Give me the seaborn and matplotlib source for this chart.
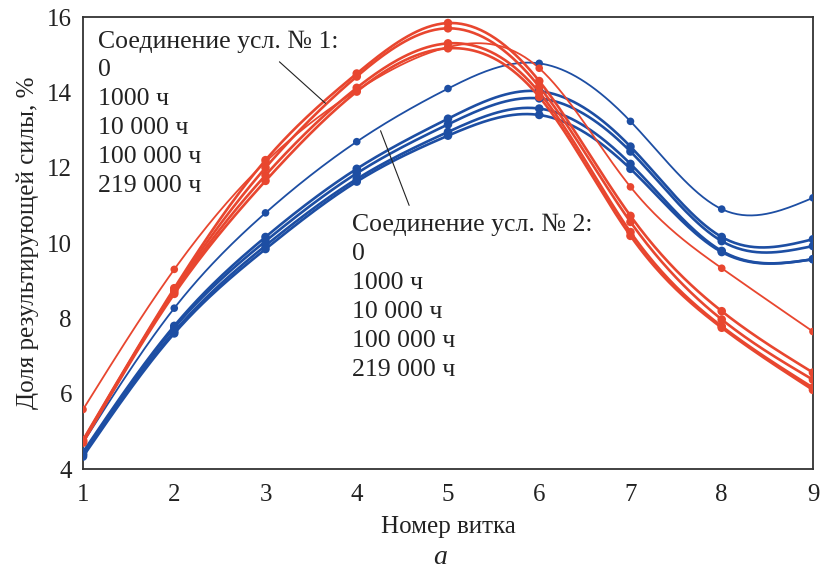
import numpy as np
import pandas as pd
import seaborn as sns
import matplotlib.pyplot as plt

sns.set_style('white')
plt.rcParams['font.family'] = ['Liberation Serif', 'DejaVu Serif']

# номер витка
turns = [1, 2, 3, 4, 5, 6, 7, 8, 9]

# соединение 1 (красные), первая кривая тонкая
red_0 = [5.58, 9.30, 12.15, 14.05, 15.20, 14.64, 11.49, 9.33, 7.65]
red_1 = [4.77, 8.80, 12.20, 14.50, 15.84, 14.30, 10.72, 8.19, 6.56]
red_2 = [4.72, 8.75, 12.00, 14.42, 15.70, 14.15, 10.56, 7.97, 6.37]
red_3 = [4.75, 8.70, 11.80, 14.12, 15.30, 14.00, 10.29, 7.79, 6.16]
red_4 = [4.70, 8.65, 11.65, 14.02, 15.17, 13.88, 10.19, 7.75, 6.10]

# соединение 2 (синие), первая кривая тонкая
blue_0 = [4.70, 8.27, 10.80, 12.69, 14.10, 14.77, 13.23, 10.90, 11.20]
blue_1 = [4.45, 7.80, 10.16, 11.97, 13.30, 14.03, 12.56, 10.16, 10.10]
blue_2 = [4.40, 7.75, 10.05, 11.85, 13.15, 13.84, 12.43, 10.05, 9.92]
blue_3 = [4.37, 7.65, 9.93, 11.70, 12.95, 13.57, 12.10, 9.79, 9.57]
blue_4 = [4.33, 7.60, 9.84, 11.63, 12.85, 13.40, 11.97, 9.76, 9.57]

labels = ['0', '1000 ч', '10 000 ч', '100 000 ч', '219 000 ч']

RED = '#e8462f'
BLUE = '#1d4ea3'
INK = '#222222'


def smooth(x, y, n=300):
    # natural cubic spline, only for drawing the line between the points
    x = np.asarray(x, float)
    y = np.asarray(y, float)
    k = len(x)
    h = np.diff(x)
    A = np.zeros((k, k))
    b = np.zeros(k)
    A[0, 0] = A[-1, -1] = 1
    for i in range(1, k - 1):
        A[i, i - 1] = h[i - 1]
        A[i, i] = 2 * (h[i - 1] + h[i])
        A[i, i + 1] = h[i]
        b[i] = 6 * ((y[i + 1] - y[i]) / h[i] - (y[i] - y[i - 1]) / h[i - 1])
    M = np.linalg.solve(A, b)
    xs = np.linspace(x[0], x[-1], n)
    idx = np.clip(np.searchsorted(x, xs) - 1, 0, k - 2)
    x0, x1 = x[idx], x[idx + 1]
    hh = x1 - x0
    t0, t1 = x1 - xs, xs - x0
    ys = (M[idx] * t0**3 + M[idx + 1] * t1**3) / (6 * hh) \
        + (y[idx] / hh - M[idx] * hh / 6) * t0 \
        + (y[idx + 1] / hh - M[idx + 1] * hh / 6) * t1
    return xs, ys


fig, ax = plt.subplots(figsize=(8.22, 5.73), dpi=100)
fig.subplots_adjust(left=0.1010, right=0.989, bottom=0.1815, top=0.9703)

groups = [(BLUE, [blue_0, blue_1, blue_2, blue_3, blue_4]),
          (RED, [red_0, red_1, red_2, red_3, red_4])]

for color, series in groups:
    for i, vals in enumerate(series):
        lw = 1.3 if i == 0 else 1.9
        xs, ys = smooth(turns, vals)
        sns.lineplot(x=xs, y=ys, ax=ax, color=color, linewidth=lw,
                     sort=False, estimator=None)
        pts = pd.DataFrame({'turn': turns, 'value': vals})
        sns.scatterplot(data=pts, x='turn', y='value', ax=ax, color=color,
                        s=38 if i else 30, edgecolor='none', zorder=3)

ax.set_xlim(1, 9)
ax.set_ylim(4, 16)
ax.set_xticks(turns)
ax.set_yticks([4, 6, 8, 10, 12, 14, 16])
ax.tick_params(direction='in', length=6, width=0.8, labelsize=18,
               colors='#555555', labelcolor=INK)
ax.tick_params(axis='x', pad=11)
ax.tick_params(axis='y', pad=8)
for sp in ax.spines.values():
    sp.set_color('#333333')
    sp.set_linewidth(1.3)

ax.set_xlabel('Номер витка', fontsize=18, color=INK, labelpad=7)
ax.set_ylabel('Доля результирующей силы, %', fontsize=18, color=INK, labelpad=6)

ax.text(1.16, 15.65, '\n'.join(['Соединение усл. № 1:'] + labels),
        fontsize=18.5, va='top', ha='left', linespacing=1.41, color=INK)
ax.text(3.95, 10.78, '\n'.join(['Соединение усл. № 2:'] + labels),
        fontsize=18.5, va='top', ha='left', linespacing=1.41, color=INK)

ax.annotate('', xy=(3.68, 13.66), xytext=(3.13, 14.86),
            arrowprops=dict(arrowstyle='-', color=INK, lw=0.8))
ax.annotate('', xy=(4.25, 13.05), xytext=(4.585, 10.93),
            arrowprops=dict(arrowstyle='-', color=INK, lw=0.8))

fig.text(0.535, 0.016, 'а', fontsize=20, style='italic', ha='center',
         va='baseline', color=INK)

fig.savefig('out.png', dpi=100)
